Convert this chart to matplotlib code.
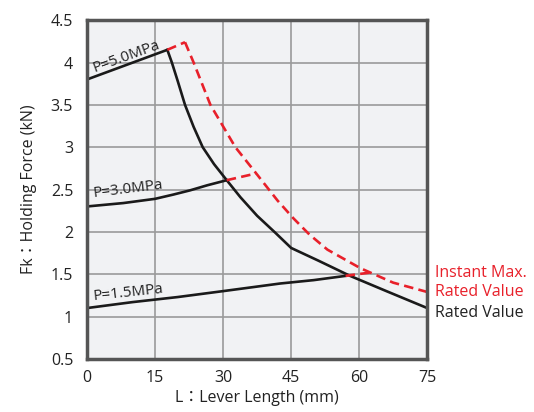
import matplotlib.pyplot as plt

plt.rcParams['font.family'] = ['Open Sans', 'Noto Sans CJK JP', 'DejaVu Sans']

# pressure lines (mm, kN)
p50_x = [0, 17.7]
p50_y = [3.80, 4.15]
p30_x = [0, 8, 15, 19, 22.7, 26.5, 30.8]
p30_y = [2.30, 2.34, 2.39, 2.44, 2.49, 2.55, 2.61]
p15_x = [0, 10, 20, 30, 42.6, 50, 57]
p15_y = [1.10, 1.17, 1.23, 1.30, 1.39, 1.43, 1.48]

# rated value curve
rated_x = [17.7, 18.7, 20, 21.6, 23.5, 25.5, 28, 30.8, 33.8, 37.5, 41.5, 45, 51, 58, 66, 75]
rated_y = [4.15, 4.00, 3.78, 3.50, 3.24, 3.00, 2.80, 2.61, 2.41, 2.19, 1.99, 1.81, 1.66, 1.48, 1.30, 1.10]

# instant max. rated value curve
inst_x = [21.6, 23.5, 27.2, 32.7, 37.3, 42, 45.5, 49, 53, 60.3, 67.5, 75]
inst_y = [4.24, 4.00, 3.50, 3.00, 2.69, 2.37, 2.16, 1.97, 1.79, 1.57, 1.40, 1.29]
# connector pieces
link5_x = [17.7, 21.6]
link5_y = [4.15, 4.24]
link3_x = [30.8, 37.3]
link3_y = [2.61, 2.69]
link15_x = [57, 62.5]
link15_y = [1.48, 1.52]

xticks = [0, 15, 30, 45, 60, 75]
yticks = [0.5, 1, 1.5, 2, 2.5, 3, 3.5, 4, 4.5]

red = '#e8202a'
dark = '#222222'

fig = plt.figure(figsize=(5.34, 4.12), dpi=100)
ax = fig.add_axes([0.163, 0.129, 0.637, 0.822])
ax.set_facecolor('#f1f2f4')

for xs, ys in [(p50_x, p50_y), (p30_x, p30_y), (p15_x, p15_y), (rated_x, rated_y)]:
    ax.plot(xs, ys, color='#1a1a1a', lw=1.9)

for xs, ys in [(link5_x, link5_y), (inst_x, inst_y), (link3_x, link3_y), (link15_x, link15_y)]:
    ax.plot(xs, ys, color=red, lw=1.9, dashes=(3.6, 2.0))

ax.text(8.6, 4.07, 'P=5.0MPa', rotation=20, ha='center', va='center', fontsize=11, color=dark)
ax.text(9.1, 2.50, 'P=3.0MPa', rotation=7, ha='center', va='center', fontsize=11, color=dark)
ax.text(9.1, 1.28, 'P=1.5MPa', rotation=6, ha='center', va='center', fontsize=11, color=dark)

ax.text(76.7, 1.468, 'Instant Max.', color=red, fontsize=11.5, va='baseline', ha='left')
ax.text(76.7, 1.245, 'Rated Value', color=red, fontsize=11.5, va='baseline', ha='left')
ax.text(76.7, 0.997, 'Rated Value', color=dark, fontsize=11.5, va='baseline', ha='left')

ax.set_xlim(0, 75)
ax.set_ylim(0.5, 4.5)
ax.set_xticks(xticks)
ax.set_yticks(yticks)
ax.set_yticklabels([('%g' % v) for v in yticks])
ax.grid(True, color='#9a9a9a', lw=1.2)
ax.set_axisbelow(True)
ax.tick_params(length=0, labelsize=11.5, colors=dark)
ax.tick_params(axis='y', pad=10)
ax.tick_params(axis='x', pad=8)
for s in ax.spines.values():
    s.set_color('#555555')
    s.set_linewidth(2.5)

ax.set_xlabel('L：Lever Length (mm)', fontsize=11.5, color=dark, labelpad=3)
ax.set_ylabel('Fk：Holding Force (kN)', fontsize=11.5, color=dark, labelpad=10)

fig.savefig('out.png', dpi=100)
